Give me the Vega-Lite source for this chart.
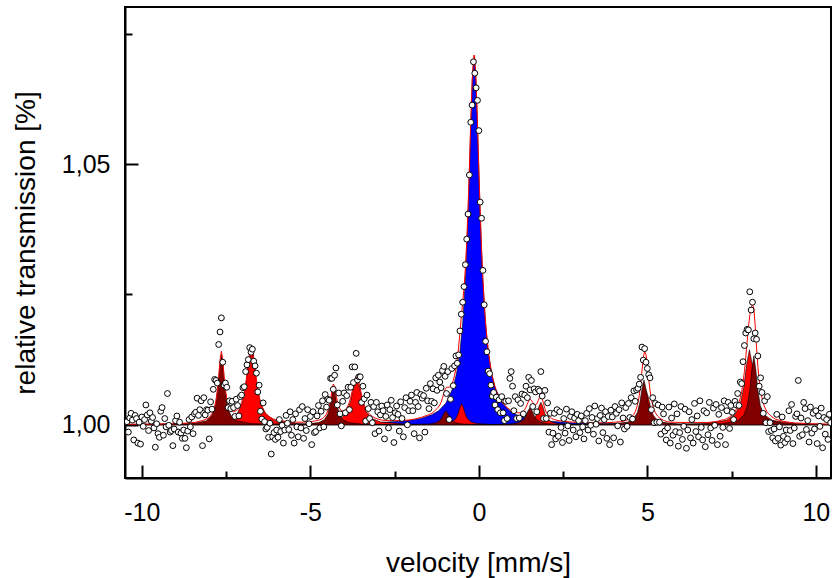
{
  "$schema": "https://vega.github.io/schema/vega-lite/v6.json",
  "width": 706,
  "height": 471,
  "autosize": {"type": "none"},
  "padding": {"left": 125, "top": 7, "right": 1, "bottom": 100},
  "background": "white",
  "config": {
    "view": {"stroke": "black", "strokeWidth": 2},
    "axis": {
      "grid": false,
      "domainColor": "black",
      "domainWidth": 2,
      "tickColor": "black",
      "tickWidth": 2,
      "labelFont": "Liberation Sans",
      "labelFontSize": 25,
      "labelColor": "black",
      "titleFont": "Liberation Sans",
      "titleFontSize": 28,
      "titleFontWeight": "normal",
      "titleColor": "black"
    }
  },
  "datasets": {
    "blue": [
      {"v":-10.5,"y":1.00003},{"v":-5.39,"y":1.00011},{"v":-3.08,"y":1.00036},{"v":-2.03,"y":1.00086},{"v":-1.715,"y":1.00123},{"v":-1.4,"y":1.00191},{"v":-1.19,"y":1.00271},{"v":-0.98,"y":1.00415},{"v":-0.77,"y":1.00705},{"v":-0.665,"y":1.00972},{"v":-0.56,"y":1.0141},{"v":-0.476,"y":1.0198},{"v":-0.4025,"y":1.0275},{"v":-0.35,"y":1.03525},{"v":-0.2975,"y":1.0451},{"v":-0.245,"y":1.0564},{"v":-0.1925,"y":1.0664},{"v":-0.14,"y":1.0705},{"v":-0.0875,"y":1.0664},{"v":-0.035,"y":1.0564},{"v":0.0175,"y":1.0451},{"v":0.07,"y":1.03525},{"v":0.1225,"y":1.0275},{"v":0.196,"y":1.0198},{"v":0.28,"y":1.0141},{"v":0.385,"y":1.00972},{"v":0.49,"y":1.00705},{"v":0.7,"y":1.00415},{"v":0.91,"y":1.00271},{"v":1.12,"y":1.00191},{"v":1.435,"y":1.00123},{"v":1.75,"y":1.00086},{"v":2.8,"y":1.00036},{"v":5.11,"y":1.00011},{"v":10.45,"y":1.00003}
    ],
    "red": [
      {"v":-10.5,"y":1.00005},
      {"v":-8.11,"y":1.00023},{"v":-7.43,"y":1.00088},{"v":-7.175,"y":1.00205},{"v":-7.022,"y":1.00419},{"v":-6.92,"y":1.00745},{"v":-6.835,"y":1.01192},{"v":-6.75,"y":1.0149},{"v":-6.665,"y":1.01192},{"v":-6.58,"y":1.00745},{"v":-6.478,"y":1.00419},{"v":-6.325,"y":1.00205},{"v":-6.07,"y":1.00088},{"v":-5.39,"y":1.00023},
      {"v":-5.07,"y":1.00014},{"v":-4.35,"y":1.00052},{"v":-4.08,"y":1.00123},{"v":-3.918,"y":1.0025},{"v":-3.81,"y":1.00445},{"v":-3.72,"y":1.00712},{"v":-3.63,"y":1.0089},{"v":-3.54,"y":1.00712},{"v":-3.45,"y":1.00445},{"v":-3.342,"y":1.0025},{"v":-3.18,"y":1.00123},{"v":-2.91,"y":1.00052},{"v":-2.19,"y":1.00014},
      {"v":-1.39,"y":1.00006},{"v":-0.95,"y":1.00024},{"v":-0.785,"y":1.00057},{"v":-0.686,"y":1.00115},{"v":-0.62,"y":1.00205},{"v":-0.565,"y":1.00328},{"v":-0.51,"y":1.0041},{"v":-0.455,"y":1.00328},{"v":-0.4,"y":1.00205},{"v":-0.334,"y":1.00115},{"v":-0.235,"y":1.00057},{"v":-0.07,"y":1.00024},{"v":0.37,"y":1.00006},
      {"v":0.88,"y":1.00007},{"v":1.36,"y":1.00025},{"v":1.54,"y":1.00059},{"v":1.648,"y":1.00121},{"v":1.72,"y":1.00215},{"v":1.78,"y":1.00344},{"v":1.84,"y":1.0043},{"v":1.9,"y":1.00344},{"v":1.96,"y":1.00215},{"v":2.032,"y":1.00121},{"v":2.14,"y":1.00059},{"v":2.32,"y":1.00025},{"v":2.8,"y":1.00007},
      {"v":3.93,"y":1.0001},{"v":4.45,"y":1.00038},{"v":4.645,"y":1.0009},{"v":4.762,"y":1.00183},{"v":4.84,"y":1.00325},{"v":4.905,"y":1.0052},{"v":4.97,"y":1.0065},{"v":5.035,"y":1.0052},{"v":5.1,"y":1.00325},{"v":5.178,"y":1.00183},{"v":5.295,"y":1.0009},{"v":5.49,"y":1.00038},{"v":6.01,"y":1.0001},
      {"v":6.67,"y":1.00022},{"v":7.35,"y":1.00085},{"v":7.605,"y":1.00199},{"v":7.758,"y":1.00405},{"v":7.86,"y":1.0072},{"v":7.945,"y":1.01152},{"v":8.03,"y":1.0144},{"v":8.115,"y":1.01152},{"v":8.2,"y":1.0072},{"v":8.302,"y":1.00405},{"v":8.455,"y":1.00199},{"v":8.71,"y":1.00085},{"v":9.39,"y":1.00022},
      {"v":10.45,"y":1.00005}
    ],
    "dark": [
      {"v":-10.5,"y":1.00005},
      {"v":-8.52,"y":1.00021},{"v":-8.08,"y":1.00079},{"v":-7.915,"y":1.00186},{"v":-7.816,"y":1.00379},{"v":-7.75,"y":1.00675},{"v":-7.695,"y":1.0108},{"v":-7.64,"y":1.0135},{"v":-7.585,"y":1.0108},{"v":-7.53,"y":1.00675},{"v":-7.464,"y":1.00379},{"v":-7.365,"y":1.00186},{"v":-7.2,"y":1.00079},{"v":-6.76,"y":1.00021},
      {"v":-5.19,"y":1.00011},{"v":-4.75,"y":1.00042},{"v":-4.585,"y":1.00098},{"v":-4.486,"y":1.00199},{"v":-4.42,"y":1.00355},{"v":-4.365,"y":1.00568},{"v":-4.31,"y":1.0071},{"v":-4.255,"y":1.00568},{"v":-4.2,"y":1.00355},{"v":-4.134,"y":1.00199},{"v":-4.035,"y":1.00098},{"v":-3.87,"y":1.00042},{"v":-3.43,"y":1.00011},
      {"v":-1.94,"y":1.00004},{"v":-1.46,"y":1.00016},{"v":-1.28,"y":1.00037},{"v":-1.172,"y":1.00076},{"v":-1.1,"y":1.00135},{"v":-1.04,"y":1.00216},{"v":-0.98,"y":1.0027},{"v":-0.92,"y":1.00216},{"v":-0.86,"y":1.00135},{"v":-0.788,"y":1.00076},{"v":-0.68,"y":1.00037},{"v":-0.5,"y":1.00016},{"v":-0.02,"y":1.00004},
      {"v":0.48,"y":1.00005},{"v":1.0,"y":1.00019},{"v":1.195,"y":1.00046},{"v":1.312,"y":1.00093},{"v":1.39,"y":1.00165},{"v":1.455,"y":1.00264},{"v":1.52,"y":1.0033},{"v":1.585,"y":1.00264},{"v":1.65,"y":1.00165},{"v":1.728,"y":1.00093},{"v":1.845,"y":1.00046},{"v":2.04,"y":1.00019},{"v":2.56,"y":1.00005},
      {"v":3.94,"y":1.00013},{"v":4.42,"y":1.00051},{"v":4.6,"y":1.00119},{"v":4.708,"y":1.00242},{"v":4.78,"y":1.0043},{"v":4.84,"y":1.00688},{"v":4.9,"y":1.0086},{"v":4.96,"y":1.00688},{"v":5.02,"y":1.0043},{"v":5.092,"y":1.00242},{"v":5.2,"y":1.00119},{"v":5.38,"y":1.00051},{"v":5.86,"y":1.00013},
      {"v":7.2,"y":1.0002},{"v":7.68,"y":1.00078},{"v":7.86,"y":1.00182},{"v":7.968,"y":1.00371},{"v":8.04,"y":1.0066},{"v":8.1,"y":1.01056},{"v":8.16,"y":1.0132},{"v":8.22,"y":1.01056},{"v":8.28,"y":1.0066},{"v":8.352,"y":1.00371},{"v":8.46,"y":1.00182},{"v":8.64,"y":1.00078},{"v":9.12,"y":1.0002},
      {"v":10.45,"y":1.00005}
    ],
    "fit": [
      {"v":-10.5,"y":1.0001},{"v":-10.0,"y":1.00012},{"v":-9.5,"y":1.00015},{"v":-9.0,"y":1.0002},{"v":-8.8,"y":1.00027},{"v":-8.6,"y":1.00035},{"v":-8.4,"y":1.0005},{"v":-8.24,"y":1.00075},{"v":-8.12,"y":1.001},{"v":-8.04,"y":1.00125},{"v":-8.0,"y":1.00146},{"v":-7.96,"y":1.00176},{"v":-7.92,"y":1.00218},{"v":-7.88,"y":1.0027},{"v":-7.84,"y":1.0035},{"v":-7.8,"y":1.0047},{"v":-7.76,"y":1.0066},{"v":-7.72,"y":1.0092},{"v":-7.68,"y":1.0124},{"v":-7.64,"y":1.0141},{"v":-7.6,"y":1.0125},{"v":-7.56,"y":1.0094},{"v":-7.52,"y":1.0068},{"v":-7.48,"y":1.005},{"v":-7.44,"y":1.0039},{"v":-7.4,"y":1.0031},{"v":-7.36,"y":1.0027},{"v":-7.32,"y":1.0026},{"v":-7.28,"y":1.0025},{"v":-7.24,"y":1.0026},{"v":-7.2,"y":1.0027},{"v":-7.16,"y":1.0029},{"v":-7.12,"y":1.0032},{"v":-7.08,"y":1.0036},{"v":-7.04,"y":1.0043},{"v":-7.0,"y":1.0051},{"v":-6.96,"y":1.0063},{"v":-6.92,"y":1.0078},{"v":-6.88,"y":1.0097},{"v":-6.84,"y":1.0119},{"v":-6.8,"y":1.014},{"v":-6.76,"y":1.0151},{"v":-6.72,"y":1.0147},{"v":-6.68,"y":1.013},{"v":-6.64,"y":1.0107},{"v":-6.6,"y":1.0086},{"v":-6.56,"y":1.0068},{"v":-6.52,"y":1.0054},{"v":-6.48,"y":1.0044},{"v":-6.44,"y":1.0036},{"v":-6.4,"y":1.003},{"v":-6.36,"y":1.0025},{"v":-6.32,"y":1.0022},{"v":-6.28,"y":1.0019},{"v":-6.24,"y":1.0017},{"v":-6.2,"y":1.0015},{"v":-6.12,"y":1.0012},{"v":-6.04,"y":1.001},{"v":-5.9,"y":1.00085},{"v":-5.7,"y":1.0006},{"v":-5.5,"y":1.00052},{"v":-5.2,"y":1.0005},{"v":-5.0,"y":1.0006},{"v":-4.84,"y":1.00076},{"v":-4.72,"y":1.00095},{"v":-4.64,"y":1.0012},{"v":-4.6,"y":1.00143},{"v":-4.56,"y":1.0017},{"v":-4.52,"y":1.0021},{"v":-4.48,"y":1.0027},{"v":-4.44,"y":1.0035},{"v":-4.4,"y":1.0049},{"v":-4.36,"y":1.0066},{"v":-4.32,"y":1.0078},{"v":-4.28,"y":1.0074},{"v":-4.24,"y":1.0058},{"v":-4.2,"y":1.0046},{"v":-4.16,"y":1.0036},{"v":-4.12,"y":1.003},{"v":-4.08,"y":1.00275},{"v":-4.04,"y":1.0027},{"v":-4.0,"y":1.0027},{"v":-3.96,"y":1.0029},{"v":-3.92,"y":1.0032},{"v":-3.88,"y":1.0037},{"v":-3.84,"y":1.0044},{"v":-3.8,"y":1.0053},{"v":-3.76,"y":1.0064},{"v":-3.72,"y":1.0076},{"v":-3.68,"y":1.0087},{"v":-3.64,"y":1.0094},{"v":-3.6,"y":1.0092},{"v":-3.56,"y":1.0082},{"v":-3.52,"y":1.007},{"v":-3.48,"y":1.0057},{"v":-3.44,"y":1.0047},{"v":-3.4,"y":1.0038},{"v":-3.36,"y":1.0032},{"v":-3.32,"y":1.0027},{"v":-3.28,"y":1.0023},{"v":-3.24,"y":1.002},{"v":-3.16,"y":1.0016},{"v":-3.08,"y":1.0013},{"v":-3.0,"y":1.0011},{"v":-2.88,"y":1.0009},{"v":-2.7,"y":1.0008},{"v":-2.5,"y":1.0008},{"v":-2.3,"y":1.0008},{"v":-2.1,"y":1.0009},{"v":-1.9,"y":1.0011},{"v":-1.7,"y":1.00144},{"v":-1.5,"y":1.0019},{"v":-1.4,"y":1.0022},{"v":-1.32,"y":1.0026},{"v":-1.24,"y":1.0031},{"v":-1.2,"y":1.0034},{"v":-1.16,"y":1.0038},{"v":-1.12,"y":1.0043},{"v":-1.08,"y":1.0051},{"v":-1.04,"y":1.006},{"v":-1.0,"y":1.0068},{"v":-0.96,"y":1.0072},{"v":-0.92,"y":1.0072},{"v":-0.88,"y":1.0072},{"v":-0.84,"y":1.0074},{"v":-0.8,"y":1.0078},{"v":-0.76,"y":1.0085},{"v":-0.72,"y":1.0095},{"v":-0.68,"y":1.0108},{"v":-0.64,"y":1.0126},{"v":-0.6,"y":1.0149},{"v":-0.56,"y":1.0177},{"v":-0.52,"y":1.0207},{"v":-0.48,"y":1.0234},{"v":-0.44,"y":1.0262},{"v":-0.4,"y":1.03},{"v":-0.36,"y":1.0351},{"v":-0.32,"y":1.0416},{"v":-0.28,"y":1.0496},{"v":-0.24,"y":1.0581},{"v":-0.2,"y":1.0657},{"v":-0.16,"y":1.0703},{"v":-0.14,"y":1.0709},{"v":-0.12,"y":1.0702},{"v":-0.08,"y":1.0655},{"v":-0.04,"y":1.0577},{"v":0.0,"y":1.049},{"v":0.04,"y":1.0408},{"v":0.08,"y":1.0337},{"v":0.12,"y":1.0279},{"v":0.16,"y":1.0233},{"v":0.2,"y":1.0195},{"v":0.24,"y":1.0166},{"v":0.28,"y":1.0142},{"v":0.32,"y":1.0122},{"v":0.36,"y":1.0106},{"v":0.4,"y":1.0093},{"v":0.44,"y":1.0082},{"v":0.48,"y":1.0073},{"v":0.52,"y":1.0065},{"v":0.56,"y":1.0059},{"v":0.6,"y":1.0053},{"v":0.68,"y":1.0044},{"v":0.76,"y":1.0038},{"v":0.84,"y":1.0033},{"v":0.92,"y":1.0029},{"v":1.0,"y":1.0026},{"v":1.08,"y":1.0024},{"v":1.16,"y":1.0023},{"v":1.24,"y":1.0023},{"v":1.28,"y":1.0024},{"v":1.32,"y":1.0026},{"v":1.36,"y":1.0029},{"v":1.4,"y":1.0034},{"v":1.44,"y":1.004},{"v":1.48,"y":1.0046},{"v":1.52,"y":1.0049},{"v":1.56,"y":1.0047},{"v":1.6,"y":1.0043},{"v":1.64,"y":1.0039},{"v":1.68,"y":1.0038},{"v":1.72,"y":1.004},{"v":1.76,"y":1.0046},{"v":1.8,"y":1.0053},{"v":1.84,"y":1.0056},{"v":1.88,"y":1.005},{"v":1.92,"y":1.004},{"v":1.96,"y":1.0031},{"v":2.0,"y":1.0024},{"v":2.04,"y":1.002},{"v":2.08,"y":1.0016},{"v":2.12,"y":1.0014},{"v":2.16,"y":1.0012},{"v":2.24,"y":1.001},{"v":2.32,"y":1.00086},{"v":2.5,"y":1.00068},{"v":2.7,"y":1.00055},{"v":3.0,"y":1.00045},{"v":3.4,"y":1.00037},{"v":3.8,"y":1.0004},{"v":4.0,"y":1.00048},{"v":4.2,"y":1.0006},{"v":4.3,"y":1.0007},{"v":4.4,"y":1.00094},{"v":4.48,"y":1.0012},{"v":4.52,"y":1.0014},{"v":4.56,"y":1.0017},{"v":4.6,"y":1.002},{"v":4.64,"y":1.0025},{"v":4.68,"y":1.0032},{"v":4.72,"y":1.0042},{"v":4.76,"y":1.0056},{"v":4.8,"y":1.0076},{"v":4.84,"y":1.0103},{"v":4.88,"y":1.0129},{"v":4.92,"y":1.0141},{"v":4.96,"y":1.0135},{"v":5.0,"y":1.0114},{"v":5.04,"y":1.0088},{"v":5.08,"y":1.0066},{"v":5.12,"y":1.0049},{"v":5.16,"y":1.0037},{"v":5.2,"y":1.0029},{"v":5.24,"y":1.0023},{"v":5.28,"y":1.0019},{"v":5.32,"y":1.0016},{"v":5.36,"y":1.0013},{"v":5.44,"y":1.001},{"v":5.5,"y":1.0008},{"v":5.6,"y":1.0006},{"v":5.7,"y":1.0005},{"v":6.0,"y":1.00045},{"v":6.5,"y":1.00045},{"v":6.8,"y":1.00045},{"v":7.0,"y":1.0006},{"v":7.1,"y":1.0007},{"v":7.2,"y":1.0009},{"v":7.3,"y":1.001},{"v":7.36,"y":1.0012},{"v":7.44,"y":1.0015},{"v":7.52,"y":1.0019},{"v":7.56,"y":1.0022},{"v":7.6,"y":1.0025},{"v":7.64,"y":1.003},{"v":7.68,"y":1.0035},{"v":7.72,"y":1.0043},{"v":7.76,"y":1.0052},{"v":7.8,"y":1.0064},{"v":7.84,"y":1.0081},{"v":7.88,"y":1.0102},{"v":7.92,"y":1.0128},{"v":7.96,"y":1.0158},{"v":8.0,"y":1.0187},{"v":8.04,"y":1.021},{"v":8.08,"y":1.0224},{"v":8.12,"y":1.0231},{"v":8.16,"y":1.0223},{"v":8.2,"y":1.0191},{"v":8.24,"y":1.0149},{"v":8.28,"y":1.0112},{"v":8.32,"y":1.0084},{"v":8.36,"y":1.0065},{"v":8.4,"y":1.0052},{"v":8.44,"y":1.0042},{"v":8.48,"y":1.0034},{"v":8.52,"y":1.0029},{"v":8.56,"y":1.0024},{"v":8.6,"y":1.0021},{"v":8.64,"y":1.0019},{"v":8.7,"y":1.0015},{"v":8.8,"y":1.0011},{"v":8.9,"y":1.0009},{"v":9.0,"y":1.0007},{"v":9.2,"y":1.0005},{"v":9.4,"y":1.00035},{"v":9.6,"y":1.0003},{"v":9.8,"y":1.0002},{"v":10.0,"y":1.00018},{"v":10.45,"y":1.00012}
    ],
    "pts": [
      {"v":-10.44,"y":1.0006},{"v":-10.4,"y":0.9986},{"v":-10.36,"y":1.0013},{"v":-10.32,"y":1.0022},{"v":-10.28,"y":1.0009},{"v":-10.24,"y":0.9971},{"v":-10.2,"y":1.0018},{"v":-10.16,"y":1.0012},{"v":-10.12,"y":0.9965},{"v":-10.08,"y":1.0005},
      {"v":-10.04,"y":0.9963},{"v":-10.0,"y":1.0015},{"v":-9.96,"y":0.9997},{"v":-9.92,"y":1.001},{"v":-9.88,"y":1.0038},{"v":-9.84,"y":1.0019},{"v":-9.8,"y":0.9989},{"v":-9.76,"y":1.0023},{"v":-9.72,"y":1.0007},{"v":-9.68,"y":1.0014},
      {"v":-9.64,"y":0.9994},{"v":-9.6,"y":0.9957},{"v":-9.56,"y":1.0002},{"v":-9.52,"y":0.9983},{"v":-9.48,"y":0.9976},{"v":-9.44,"y":1.0026},{"v":-9.4,"y":1.0033},{"v":-9.36,"y":0.998},{"v":-9.32,"y":1.0012},{"v":-9.28,"y":0.9996},
      {"v":-9.24,"y":1.006},{"v":-9.2,"y":0.9999},{"v":-9.16,"y":0.9986},{"v":-9.12,"y":0.9989},{"v":-9.08,"y":0.996},{"v":-9.04,"y":0.9992},{"v":-9.0,"y":1.0008},{"v":-8.96,"y":1.0017},{"v":-8.92,"y":0.9986},{"v":-8.88,"y":1.0005},
      {"v":-8.84,"y":0.9984},{"v":-8.8,"y":0.9974},{"v":-8.76,"y":0.999},{"v":-8.72,"y":0.9974},{"v":-8.68,"y":0.9956},{"v":-8.64,"y":0.9988},{"v":-8.6,"y":1.001},{"v":-8.56,"y":0.9996},{"v":-8.52,"y":1.0015},{"v":-8.48,"y":0.9983},
      {"v":-8.44,"y":1.0021},{"v":-8.4,"y":1.0024},{"v":-8.36,"y":1.0051},{"v":-8.32,"y":1.0018},{"v":-8.28,"y":1.0029},{"v":-8.24,"y":1.0046},{"v":-8.2,"y":0.996},{"v":-8.16,"y":1.0052},{"v":-8.12,"y":1.0019},{"v":-8.08,"y":1.0029},
      {"v":-8.04,"y":1.0028},{"v":-8.0,"y":0.9973},{"v":-7.96,"y":1.0044},{"v":-7.92,"y":1.003},{"v":-7.88,"y":1.0068},{"v":-7.84,"y":1.0087},{"v":-7.8,"y":1.0085},{"v":-7.76,"y":1.008},{"v":-7.72,"y":1.0154},{"v":-7.68,"y":1.0178},
      {"v":-7.64,"y":1.0205},{"v":-7.6,"y":1.012},{"v":-7.56,"y":1.0076},{"v":-7.52,"y":1.008},{"v":-7.48,"y":1.0072},{"v":-7.44,"y":1.0033},{"v":-7.4,"y":1.0046},{"v":-7.36,"y":1.0031},{"v":-7.32,"y":1.0045},{"v":-7.28,"y":1.0033},
      {"v":-7.24,"y":1.0016},{"v":-7.2,"y":1.0049},{"v":-7.16,"y":1.0037},{"v":-7.12,"y":1.0017},{"v":-7.08,"y":1.0054},{"v":-7.04,"y":1.0057},{"v":-7.0,"y":1.0071},{"v":-6.96,"y":1.0073},{"v":-6.92,"y":1.0102},{"v":-6.88,"y":1.0115},
      {"v":-6.84,"y":1.0125},{"v":-6.8,"y":1.0148},{"v":-6.76,"y":1.0139},{"v":-6.72,"y":1.0145},{"v":-6.68,"y":1.0122},{"v":-6.64,"y":1.0113},{"v":-6.6,"y":1.0099},{"v":-6.56,"y":1.0063},{"v":-6.52,"y":1.0076},{"v":-6.48,"y":1.0026},
      {"v":-6.44,"y":1.0011},{"v":-6.4,"y":1.0042},{"v":-6.36,"y":1.0006},{"v":-6.32,"y":0.9992},{"v":-6.28,"y":0.9995},{"v":-6.24,"y":0.9976},{"v":-6.2,"y":1.0003},{"v":-6.16,"y":0.9944},{"v":-6.12,"y":0.9977},{"v":-6.08,"y":0.9985},
      {"v":-6.04,"y":0.9972},{"v":-6.0,"y":0.999},{"v":-5.96,"y":0.9976},{"v":-5.92,"y":1.001},{"v":-5.88,"y":0.9987},{"v":-5.84,"y":0.9999},{"v":-5.8,"y":0.9965},{"v":-5.76,"y":0.999},{"v":-5.72,"y":1.0018},{"v":-5.68,"y":1.0003},
      {"v":-5.64,"y":0.9991},{"v":-5.6,"y":1.0025},{"v":-5.56,"y":0.998},{"v":-5.52,"y":1.001},{"v":-5.48,"y":0.9965},{"v":-5.44,"y":1.0021},{"v":-5.4,"y":0.9996},{"v":-5.36,"y":0.9977},{"v":-5.32,"y":1.0029},{"v":-5.28,"y":0.9994},
      {"v":-5.24,"y":1.0035},{"v":-5.2,"y":0.9974},{"v":-5.16,"y":1.0012},{"v":-5.12,"y":0.9989},{"v":-5.08,"y":1.0029},{"v":-5.04,"y":1.0002},{"v":-5.0,"y":1.0016},{"v":-4.96,"y":0.9962},{"v":-4.92,"y":1.0025},{"v":-4.88,"y":0.9985},
      {"v":-4.84,"y":0.9987},{"v":-4.8,"y":1.0017},{"v":-4.76,"y":1.0037},{"v":-4.72,"y":0.9994},{"v":-4.68,"y":1.0026},{"v":-4.64,"y":1.0046},{"v":-4.6,"y":0.9996},{"v":-4.56,"y":1.0058},{"v":-4.52,"y":1.0034},{"v":-4.48,"y":1.0049},
      {"v":-4.44,"y":1.0047},{"v":-4.4,"y":1.0089},{"v":-4.36,"y":1.0089},{"v":-4.32,"y":1.0068},{"v":-4.28,"y":1.0095},{"v":-4.24,"y":1.0109},{"v":-4.2,"y":1.0038},{"v":-4.16,"y":1.0061},{"v":-4.12,"y":1.0021},{"v":-4.08,"y":0.9998},
      {"v":-4.04,"y":1.0045},{"v":-4.0,"y":1.0061},{"v":-3.96,"y":1.0023},{"v":-3.92,"y":1.0056},{"v":-3.88,"y":1.0072},{"v":-3.84,"y":1.0029},{"v":-3.8,"y":1.0072},{"v":-3.76,"y":1.0111},{"v":-3.72,"y":1.0081},{"v":-3.68,"y":1.0111},
      {"v":-3.64,"y":1.0137},{"v":-3.6,"y":1.0086},{"v":-3.56,"y":1.0092},{"v":-3.52,"y":1.0092},{"v":-3.48,"y":1.0043},{"v":-3.44,"y":1.0074},{"v":-3.4,"y":1.005},{"v":-3.36,"y":1.0007},{"v":-3.32,"y":1.0057},{"v":-3.28,"y":1.0031},
      {"v":-3.24,"y":1.0012},{"v":-3.2,"y":1.0043},{"v":-3.16,"y":1.0004},{"v":-3.12,"y":1.0035},{"v":-3.08,"y":0.9983},{"v":-3.04,"y":1.0043},{"v":-3.0,"y":1.0025},{"v":-2.96,"y":0.9988},{"v":-2.92,"y":1.0019},{"v":-2.88,"y":1.0036},
      {"v":-2.84,"y":1.0027},{"v":-2.8,"y":0.9973},{"v":-2.76,"y":1.0016},{"v":-2.72,"y":1.0038},{"v":-2.68,"y":0.9994},{"v":-2.64,"y":1.0029},{"v":-2.6,"y":1.0047},{"v":-2.56,"y":1.0014},{"v":-2.52,"y":0.9966},{"v":-2.48,"y":1.0023},
      {"v":-2.44,"y":1.0036},{"v":-2.4,"y":1.002},{"v":-2.36,"y":0.9988},{"v":-2.32,"y":1.0044},{"v":-2.28,"y":1.0012},{"v":-2.24,"y":0.9977},{"v":-2.2,"y":1.0033},{"v":-2.16,"y":1.0052},{"v":-2.12,"y":1.0},{"v":-2.08,"y":1.0027},
      {"v":-2.04,"y":1.0045},{"v":-2.0,"y":1.0057},{"v":-1.96,"y":1.0027},{"v":-1.92,"y":0.9983},{"v":-1.88,"y":1.0043},{"v":-1.84,"y":1.0062},{"v":-1.8,"y":1.0035},{"v":-1.76,"y":0.9975},{"v":-1.72,"y":1.0058},{"v":-1.68,"y":1.0051},
      {"v":-1.64,"y":1.0056},{"v":-1.6,"y":0.9986},{"v":-1.56,"y":1.007},{"v":-1.52,"y":1.0046},{"v":-1.48,"y":1.0031},{"v":-1.44,"y":1.0079},{"v":-1.4,"y":1.0045},{"v":-1.36,"y":1.0069},{"v":-1.32,"y":1.0042},{"v":-1.28,"y":1.009},
      {"v":-1.24,"y":1.0066},{"v":-1.2,"y":1.0095},{"v":-1.16,"y":1.0082},{"v":-1.12,"y":1.0071},{"v":-1.08,"y":1.0104},{"v":-1.04,"y":1.0112},{"v":-1.0,"y":1.0093},{"v":-0.96,"y":1.006},{"v":-0.92,"y":1.0102},{"v":-0.88,"y":1.001},
      {"v":-0.84,"y":1.0049},{"v":-0.8,"y":1.0108},{"v":-0.76,"y":1.0075},{"v":-0.72,"y":1.0113},{"v":-0.68,"y":1.0132},{"v":-0.64,"y":1.0118},{"v":-0.6,"y":1.0134},{"v":-0.56,"y":1.018},{"v":-0.52,"y":1.0212},{"v":-0.48,"y":1.0235},
      {"v":-0.44,"y":1.0265},{"v":-0.4,"y":1.0307},{"v":-0.36,"y":1.0356},{"v":-0.32,"y":1.0404},{"v":-0.28,"y":1.0479},{"v":-0.24,"y":1.058},{"v":-0.2,"y":1.0613},{"v":-0.16,"y":1.0696},{"v":-0.12,"y":1.0674},{"v":-0.08,"y":1.0646},
      {"v":-0.04,"y":1.0622},{"v":0.0,"y":1.0564},{"v":0.04,"y":1.0427},{"v":0.08,"y":1.0396},{"v":0.12,"y":1.0296},{"v":0.16,"y":1.023},{"v":0.2,"y":1.016},{"v":0.24,"y":1.014},{"v":0.28,"y":1.0103},{"v":0.32,"y":1.0098},
      {"v":0.36,"y":1.0076},{"v":0.4,"y":1.0055},{"v":0.44,"y":1.0062},{"v":0.48,"y":1.0038},{"v":0.52,"y":1.0053},{"v":0.56,"y":1.0029},{"v":0.6,"y":1.0048},{"v":0.64,"y":1.0023},{"v":0.68,"y":1.0054},{"v":0.72,"y":1.0023},
      {"v":0.76,"y":1.0008},{"v":0.8,"y":1.0045},{"v":0.84,"y":1.0012},{"v":0.88,"y":1.0046},{"v":0.92,"y":1.0089},{"v":0.96,"y":1.0102},{"v":1.0,"y":1.0074},{"v":1.04,"y":1.0027},{"v":1.08,"y":1.0054},{"v":1.12,"y":1.0012},
      {"v":1.16,"y":1.0048},{"v":1.2,"y":1.0013},{"v":1.24,"y":1.0041},{"v":1.28,"y":1.0059},{"v":1.32,"y":1.0021},{"v":1.36,"y":1.0057},{"v":1.4,"y":1.0074},{"v":1.44,"y":1.0052},{"v":1.48,"y":1.0091},{"v":1.52,"y":1.0067},
      {"v":1.56,"y":1.0085},{"v":1.6,"y":1.0035},{"v":1.64,"y":1.0069},{"v":1.68,"y":1.0063},{"v":1.72,"y":1.0025},{"v":1.76,"y":1.0068},{"v":1.8,"y":1.0065},{"v":1.84,"y":1.0102},{"v":1.88,"y":1.0055},{"v":1.92,"y":1.0012},
      {"v":1.96,"y":1.0066},{"v":2.0,"y":1.0012},{"v":2.04,"y":1.0042},{"v":2.08,"y":0.9986},{"v":2.12,"y":1.0022},{"v":2.16,"y":0.9962},{"v":2.2,"y":0.9984},{"v":2.24,"y":1.0022},{"v":2.28,"y":0.9973},{"v":2.32,"y":1.0029},
      {"v":2.36,"y":0.9978},{"v":2.4,"y":1.0025},{"v":2.44,"y":0.9995},{"v":2.48,"y":0.9966},{"v":2.52,"y":1.0012},{"v":2.56,"y":0.9984},{"v":2.6,"y":1.003},{"v":2.64,"y":0.9998},{"v":2.68,"y":0.997},{"v":2.72,"y":1.0016},
      {"v":2.76,"y":1.0025},{"v":2.8,"y":0.999},{"v":2.84,"y":1.0013},{"v":2.88,"y":0.9977},{"v":2.92,"y":1.002},{"v":2.96,"y":1.0008},{"v":3.0,"y":0.9985},{"v":3.04,"y":1.0017},{"v":3.08,"y":0.9996},{"v":3.12,"y":0.9973},
      {"v":3.16,"y":1.0008},{"v":3.2,"y":1.0022},{"v":3.24,"y":0.999},{"v":3.28,"y":1.0031},{"v":3.32,"y":0.9999},{"v":3.36,"y":1.0014},{"v":3.4,"y":0.9982},{"v":3.44,"y":1.0036},{"v":3.48,"y":1.0001},{"v":3.52,"y":1.0012},
      {"v":3.56,"y":0.9969},{"v":3.6,"y":1.0018},{"v":3.64,"y":1.0032},{"v":3.68,"y":0.9985},{"v":3.72,"y":1.001},{"v":3.76,"y":1.0025},{"v":3.8,"y":0.9974},{"v":3.84,"y":1.0016},{"v":3.88,"y":0.9962},{"v":3.92,"y":1.0028},
      {"v":3.96,"y":1.0015},{"v":4.0,"y":0.9975},{"v":4.04,"y":1.0035},{"v":4.08,"y":1.0022},{"v":4.12,"y":0.9998},{"v":4.16,"y":1.0029},{"v":4.2,"y":0.9967},{"v":4.24,"y":1.0042},{"v":4.28,"y":1.0013},{"v":4.32,"y":0.9992},
      {"v":4.36,"y":1.0033},{"v":4.4,"y":0.9997},{"v":4.44,"y":1.0041},{"v":4.48,"y":1.0014},{"v":4.52,"y":1.0052},{"v":4.56,"y":1.0011},{"v":4.6,"y":1.0065},{"v":4.64,"y":1.0045},{"v":4.68,"y":1.0067},{"v":4.72,"y":1.007},
      {"v":4.76,"y":1.0078},{"v":4.8,"y":1.0091},{"v":4.84,"y":1.0149},{"v":4.88,"y":1.0124},{"v":4.92,"y":1.0146},{"v":4.96,"y":1.012},{"v":5.0,"y":1.0108},{"v":5.04,"y":1.0096},{"v":5.08,"y":1.009},{"v":5.12,"y":1.0029},
      {"v":5.16,"y":1.0052},{"v":5.2,"y":1.0004},{"v":5.24,"y":1.0041},{"v":5.28,"y":1.0005},{"v":5.32,"y":1.0038},{"v":5.36,"y":1.0005},{"v":5.4,"y":0.9982},{"v":5.44,"y":1.0034},{"v":5.48,"y":1.0021},{"v":5.52,"y":0.9988},
      {"v":5.56,"y":0.9971},{"v":5.6,"y":0.9994},{"v":5.64,"y":1.0034},{"v":5.68,"y":0.9965},{"v":5.72,"y":1.0013},{"v":5.76,"y":0.998},{"v":5.8,"y":1.004},{"v":5.84,"y":0.9987},{"v":5.88,"y":1.0021},{"v":5.92,"y":0.9959},
      {"v":5.96,"y":0.9985},{"v":6.0,"y":1.0035},{"v":6.04,"y":0.9972},{"v":6.08,"y":0.9997},{"v":6.12,"y":1.003},{"v":6.16,"y":0.9955},{"v":6.2,"y":0.999},{"v":6.24,"y":1.0025},{"v":6.28,"y":0.9975},{"v":6.32,"y":1.001},
      {"v":6.36,"y":0.9965},{"v":6.4,"y":1.0041},{"v":6.44,"y":0.9987},{"v":6.48,"y":1.0017},{"v":6.52,"y":0.9977},{"v":6.56,"y":1.0046},{"v":6.6,"y":0.9995},{"v":6.64,"y":0.9971},{"v":6.68,"y":1.0027},{"v":6.72,"y":0.9958},
      {"v":6.76,"y":1.0023},{"v":6.8,"y":0.9981},{"v":6.84,"y":1.0043},{"v":6.88,"y":0.9994},{"v":6.92,"y":0.997},{"v":6.96,"y":1.0032},{"v":7.0,"y":0.9999},{"v":7.04,"y":1.0039},{"v":7.08,"y":0.9962},{"v":7.12,"y":1.002},
      {"v":7.16,"y":0.9978},{"v":7.2,"y":1.0033},{"v":7.24,"y":0.9995},{"v":7.28,"y":1.0046},{"v":7.32,"y":0.9962},{"v":7.36,"y":1.0027},{"v":7.4,"y":1.0043},{"v":7.44,"y":0.9993},{"v":7.48,"y":1.0037},{"v":7.52,"y":1.0024},
      {"v":7.56,"y":1.001},{"v":7.6,"y":1.0045},{"v":7.64,"y":1.0038},{"v":7.68,"y":1.006},{"v":7.72,"y":1.0037},{"v":7.76,"y":1.0082},{"v":7.8,"y":1.0079},{"v":7.84,"y":1.0121},{"v":7.88,"y":1.0152},{"v":7.92,"y":1.0176},
      {"v":7.96,"y":1.0183},{"v":8.0,"y":1.0182},{"v":8.04,"y":1.0255},{"v":8.08,"y":1.022},{"v":8.12,"y":1.0235},{"v":8.16,"y":1.0165},{"v":8.2,"y":1.0176},{"v":8.24,"y":1.0164},{"v":8.28,"y":1.0132},{"v":8.32,"y":1.0074},
      {"v":8.36,"y":1.009},{"v":8.4,"y":1.0062},{"v":8.44,"y":1.0022},{"v":8.48,"y":1.0046},{"v":8.52,"y":1.0004},{"v":8.56,"y":1.0054},{"v":8.6,"y":0.9987},{"v":8.64,"y":1.0004},{"v":8.68,"y":0.9989},{"v":8.72,"y":0.9975},
      {"v":8.76,"y":0.9992},{"v":8.8,"y":0.9969},{"v":8.84,"y":1.002},{"v":8.88,"y":0.9974},{"v":8.92,"y":0.9996},{"v":8.96,"y":0.9961},{"v":9.0,"y":1.0015},{"v":9.04,"y":0.9978},{"v":9.08,"y":0.9966},{"v":9.12,"y":0.999},
      {"v":9.16,"y":0.9973},{"v":9.2,"y":1.0027},{"v":9.24,"y":0.9989},{"v":9.28,"y":1.0039},{"v":9.32,"y":0.9964},{"v":9.36,"y":0.9994},{"v":9.4,"y":1.0016},{"v":9.44,"y":1.0021},{"v":9.48,"y":1.0085},{"v":9.52,"y":0.9978},
      {"v":9.56,"y":1.0013},{"v":9.6,"y":0.9981},{"v":9.64,"y":1.0043},{"v":9.68,"y":1.0031},{"v":9.72,"y":0.9991},{"v":9.76,"y":1.0008},{"v":9.8,"y":0.9967},{"v":9.84,"y":1.0034},{"v":9.88,"y":0.9984},{"v":9.92,"y":1.0022},
      {"v":9.96,"y":0.9992},{"v":10.0,"y":1.0027},{"v":10.04,"y":0.9964},{"v":10.08,"y":1.0017},{"v":10.12,"y":0.9997},{"v":10.16,"y":1.0032},{"v":10.2,"y":0.9956},{"v":10.24,"y":1.0014},{"v":10.28,"y":0.9982},{"v":10.32,"y":1.001},{"v":10.36,"y":0.9972},{"v":10.4,"y":1.002},{"v":10.44,"y":1.0004}
    ]
  },
  "encoding": {
    "x": {
      "field": "v",
      "type": "quantitative",
      "scale": {"domain": [-10.5, 10.45], "nice": false, "zero": false},
      "axis": {
        "title": "velocity [mm/s]",
        "values": [-10, -7.5, -5, -2.5, 0, 2.5, 5, 7.5, 10],
        "labelExpr": "datum.value % 5 === 0 ? '' + datum.value : ''",
        "tickSize": {"condition": {"test": "datum.value % 5 === 0", "value": -13}, "value": -7},
        "labelPadding": 35,
        "titlePadding": 24,
        "labelFlush": false
      }
    },
    "y": {
      "field": "y",
      "type": "quantitative",
      "scale": {"domain": [0.9898, 1.0801], "nice": false, "zero": false},
      "axis": {
        "title": "relative transmission [%]",
        "values": [1, 1.025, 1.05, 1.075],
        "labelExpr": "round(datum.value * 1000) % 50 === 0 ? replace(format(datum.value, '.2f'), '.', ',') : ''",
        "tickSize": {"condition": {"test": "round(datum.value * 1000) % 50 === 0", "value": -13}, "value": -7},
        "labelPadding": 28,
        "titlePadding": 21
      }
    }
  },
  "layer": [
    {
      "data": {"name": "blue"},
      "mark": {"type": "area", "color": "#0000ff", "stroke": "black", "strokeWidth": 0.6, "clip": true},
      "encoding": {"y2": {"datum": 1}}
    },
    {
      "data": {"name": "red"},
      "mark": {"type": "area", "color": "#ff0000", "stroke": "black", "strokeWidth": 0.6, "clip": true},
      "encoding": {"y2": {"datum": 1}}
    },
    {
      "data": {"name": "dark"},
      "mark": {"type": "area", "color": "#800000", "stroke": "black", "strokeWidth": 0.6, "clip": true},
      "encoding": {"y2": {"datum": 1}}
    },
    {
      "data": {"values": [{}]},
      "mark": {"type": "rule", "color": "black", "strokeWidth": 1.5},
      "encoding": {"x": {"datum": -10.5}, "x2": {"datum": 10.45}, "y": {"datum": 1}}
    },
    {
      "data": {"name": "fit"},
      "mark": {"type": "line", "color": "#ff0000", "strokeWidth": 1, "clip": true},
      "encoding": {}
    },
    {
      "data": {"name": "pts"},
      "mark": {"type": "point", "shape": "circle", "filled": true, "fill": "white", "stroke": "black", "strokeWidth": 1, "size": 34, "opacity": 1, "clip": true},
      "encoding": {}
    }
  ]
}
